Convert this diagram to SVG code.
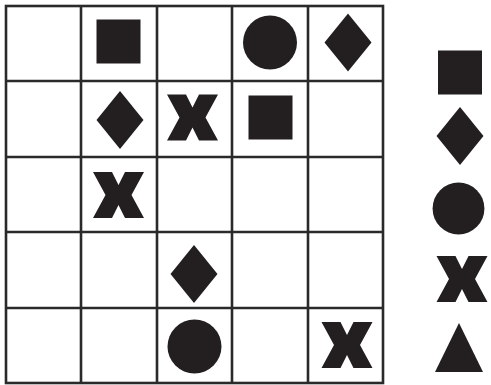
<svg xmlns="http://www.w3.org/2000/svg" width="491" height="385" viewBox="0 0 491 385">
<style>
.g{stroke:#2b2a2b;stroke-width:2.6;fill:none}
.s{fill:#231f20}
</style>
<defs>
<rect id="sq" x="-22" y="-22" width="44" height="44"/>
<polygon id="dm" points="0,-29 23.5,0 0,29 -23.5,0"/>
<circle id="ci" r="27"/>
<polygon id="xx" points="-25.5,-23 -6.5,-23 0,-10 6.5,-23 25.5,-23 13,0 25.5,23 6.5,23 0,10 -6.5,23 -25.5,23 -13,0"/>
<polygon id="tr" points="0,-24.5 24,24.5 -24,24.5"/>
</defs>
<rect width="491" height="385" fill="#fff"/>
<g id="grid" class="g">
<rect x="6" y="6" width="377" height="377"/>
<line x1="81" y1="6" x2="81" y2="383"/>
<line x1="157" y1="6" x2="157" y2="383"/>
<line x1="232" y1="6" x2="232" y2="383"/>
<line x1="308" y1="6" x2="308" y2="383"/>
<line x1="6" y1="81" x2="383" y2="81"/>
<line x1="6" y1="157" x2="383" y2="157"/>
<line x1="6" y1="232" x2="383" y2="232"/>
<line x1="6" y1="308" x2="383" y2="308"/>
</g>
<g id="cells" class="s">
<use href="#sq" x="118.5" y="41.5"/>
<use href="#ci" x="270" y="42.5"/>
<use href="#dm" x="348" y="42.5"/>
<use href="#dm" x="120" y="120"/>
<use href="#xx" x="192.5" y="117.5"/>
<use href="#sq" x="270.5" y="117.5"/>
<use href="#xx" x="118.5" y="195"/>
<use href="#dm" x="194" y="274"/>
<use href="#ci" x="194.5" y="346.5"/>
<use href="#xx" x="347" y="345"/>
</g>
<g id="legend" class="s">
<use href="#sq" x="460" y="72.5"/>
<use href="#dm" x="460" y="136"/>
<use href="#ci" x="458.5" y="208.5" transform="translate(458.5,208.5) scale(0.96) translate(-458.5,-208.5)"/>
<use href="#xx" x="462" y="279"/>
<use href="#tr" x="459" y="347.5"/>
</g>
</svg>
